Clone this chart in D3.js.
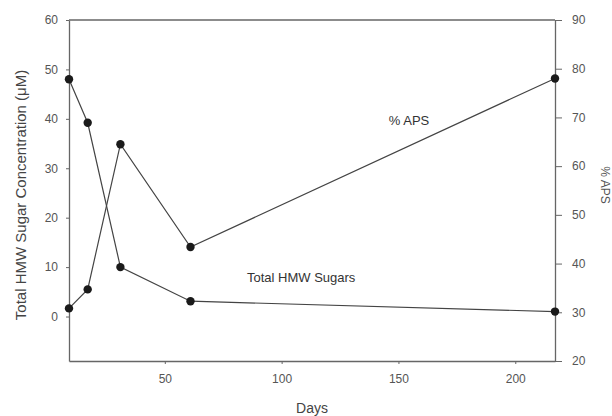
<!DOCTYPE html>
<html><head><meta charset="utf-8">
<script src="https://cdn.jsdelivr.net/npm/d3@7"></script>
<style>body{margin:0;background:#fff}svg{display:block}text{font-family:"Liberation Sans",Arial,sans-serif}</style>
</head><body><svg id="c" width="612" height="416"></svg>
<script>
const days = [9, 17, 31, 61, 217];
const hmwSugars = [48, 39.2, 10, 3.1, 1.0];
const apsPercent = [30.8, 34.7, 64.5, 43.4, 78];
const leftTicks = [0, 10, 20, 30, 40, 50, 60];
const rightTicks = [20, 30, 40, 50, 60, 70, 80, 90];
const xTicks = [50, 100, 150, 200];

const svg = d3.select("#c");
const L = 69, R = 555, T = 20, B = 361;
const x = d3.scaleLinear().domain([9, 217]).range([L, R]);
const yL = d3.scaleLinear().domain([-9, 60]).range([B, T]);
const yR = d3.scaleLinear().domain([20, 90]).range([B, T]);
const axisColor = "#666", textColor = "#555";

function style(g){
  g.selectAll("path").attr("stroke", axisColor).attr("stroke-width", 1.3);
  g.selectAll("line").attr("stroke", axisColor);
  g.selectAll("text").attr("fill", textColor).style("font-size", "12px");
}
svg.append("g").attr("transform", `translate(${L},0)`)
  .call(d3.axisLeft(yL).tickValues(leftTicks).tickSize(3).tickSizeOuter(0).tickPadding(8)).call(style);
svg.append("g").attr("transform", `translate(${R},0)`)
  .call(d3.axisRight(yR).tickValues(rightTicks).tickSize(7).tickSizeOuter(0).tickPadding(10)).call(style);
svg.append("g").attr("transform", `translate(0,${B})`)
  .call(d3.axisBottom(x).tickValues(xTicks).tickSize(3).tickSizeOuter(0).tickPadding(10)).call(style);
svg.append("line").attr("x1", L).attr("x2", R).attr("y1", T).attr("y2", T)
  .attr("stroke", axisColor).attr("stroke-width", 1.3);

const lineL = d3.line().x((d,i)=>x(days[i])).y(d=>yL(d));
const lineR = d3.line().x((d,i)=>x(days[i])).y(d=>yR(d));
svg.append("path").attr("d", lineL(hmwSugars)).attr("fill","none").attr("stroke","#444").attr("stroke-width",1.2);
svg.append("path").attr("d", lineR(apsPercent)).attr("fill","none").attr("stroke","#444").attr("stroke-width",1.2);
svg.selectAll(".ph").data(hmwSugars).enter().append("circle")
  .attr("cx",(d,i)=>x(days[i])).attr("cy",d=>yL(d)).attr("r",4.2).attr("fill","#1a1a1a");
svg.selectAll(".pa").data(apsPercent).enter().append("circle")
  .attr("cx",(d,i)=>x(days[i])).attr("cy",d=>yR(d)).attr("r",4.2).attr("fill","#1a1a1a");

svg.append("text").attr("transform","translate(26,195) rotate(-90)").attr("text-anchor","middle")
  .attr("fill","#444").style("font-size","15px").text("Total HMW Sugar Concentration (μM)");
svg.append("text").attr("transform","translate(601,185) rotate(90)").attr("text-anchor","middle")
  .attr("fill","#555").style("font-size","12px").text("% APS");
svg.append("text").attr("x",312).attr("y",413).attr("text-anchor","middle")
  .attr("fill","#444").style("font-size","14px").text("Days");
svg.append("text").attr("x",409).attr("y",125).attr("text-anchor","middle")
  .attr("fill","#333").style("font-size","13px").text("% APS");
svg.append("text").attr("x",247).attr("y",282).attr("text-anchor","start")
  .attr("fill","#333").style("font-size","13px").text("Total HMW Sugars");
</script></body></html>
